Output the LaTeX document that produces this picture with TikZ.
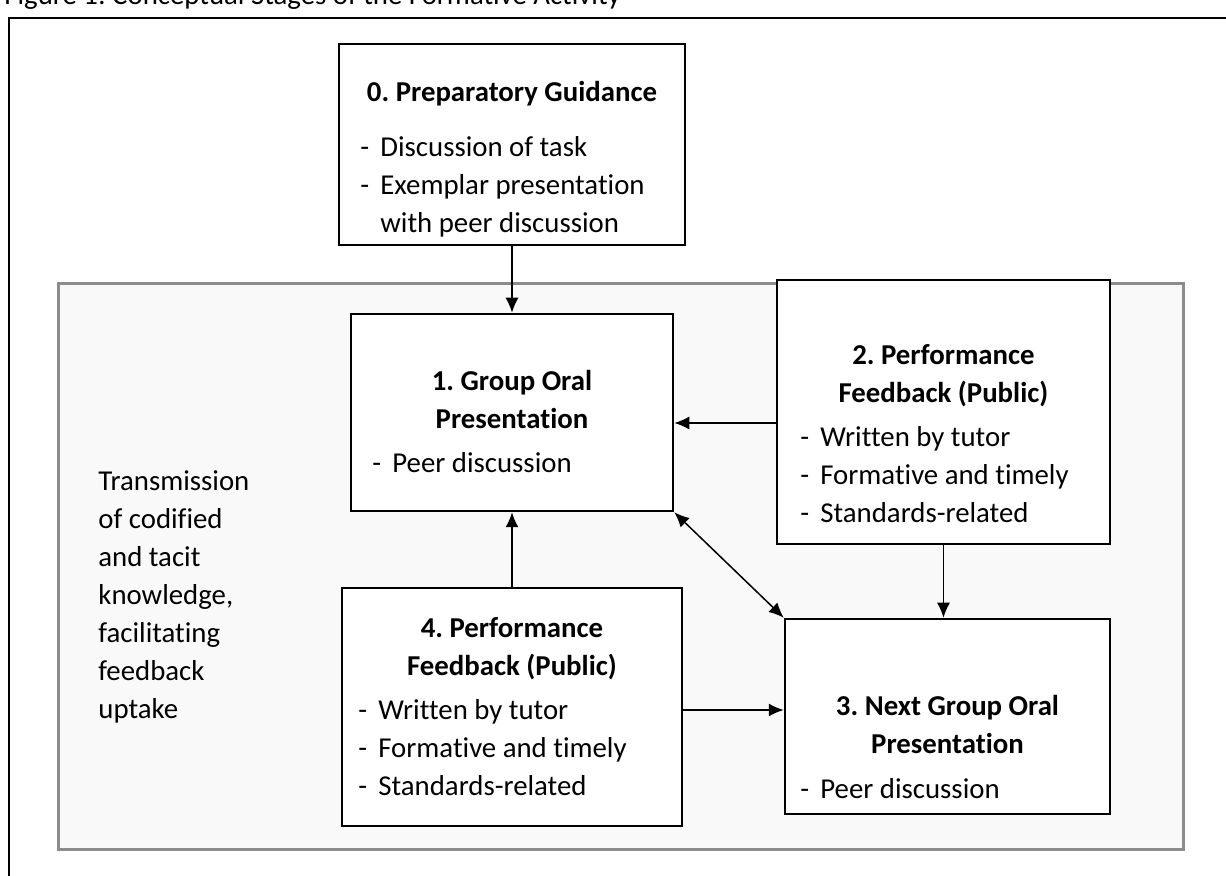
\documentclass[tikz,border=0pt]{standalone}
\usepackage{fontspec}
\setmainfont{Carlito}[Ligatures=NoCommon]
\usetikzlibrary{arrows.meta}

\definecolor{panelfill}{HTML}{F9F9F9}
\definecolor{panelline}{HTML}{8C8C8C}

\newcommand{\bodyfont}{\fontsize{14.4pt}{19pt}\selectfont\frenchspacing}
\newcommand{\dashitem}{\makebox[10pt][l]{-}}

\tikzset{
  stagebox/.style={draw, fill=white, line width=1.25pt, inner sep=0pt},
  heading/.style={font=\bodyfont\bfseries, align=center, inner sep=0pt, anchor=north},
  itemlist/.style={font=\bodyfont, align=left, inner sep=0pt, anchor=north west},
  link/.style={->, line width=0.75pt},
}

\begin{document}
\begin{tikzpicture}[x=0.5pt, y=-0.5pt, >={Latex[length=7.5pt,width=6.5pt]}]%
        \useasboundingbox (0,0) rectangle (1226,876);
        % caption and frame
        \node[font=\bodyfont, anchor=base west, inner sep=0pt] (caption) at (4,5)
            {Figure 1: Conceptual Stages of the Formative Activity};
        \draw[line width=0.75pt] (9,876) -- (9,18) -- (1226,18);
        % grey panel
        \draw[fill=panelfill, draw=panelline, line width=1.5pt] (58,284) rectangle (1183,849);
        % stage boxes
        \node[stagebox, minimum width=173pt, minimum height=100.5pt] (prep) at (512,144.5) {};
        \node[stagebox, minimum width=161pt, minimum height=98.5pt] (oral) at (512,412.5) {};
        \node[stagebox, minimum width=166.5pt, minimum height=132pt] (feedA) at (943.5,412) {};
        \node[stagebox, minimum width=162.5pt, minimum height=97.5pt] (nextoral) at (947.5,716.5) {};
        \node[stagebox, minimum width=170pt, minimum height=119pt] (feedB) at (512,707) {};
        % texts
        \node[heading] (prepHead) at (512,81) {0. Preparatory Guidance};
        \node[itemlist] (prepItems) at (360,136)
            {\dashitem Discussion of task\\ \dashitem Exemplar presentation\\ \hspace*{10pt}with peer discussion};
        \node[heading] (oralHead) at (512,370) {1. Group Oral\\Presentation};
        \node[itemlist] (oralItems) at (372,452) {\dashitem Peer discussion};
        \node[heading] (feedAHead) at (943.5,344) {2. Performance\\Feedback (Public)};
        \node[itemlist] (feedAItems) at (800,426)
            {\dashitem Written by tutor\\ \dashitem Formative and timely\\ \dashitem Standards-related};
        \node[heading] (nextHead) at (947.5,695) {3. Next Group Oral\\Presentation};
        \node[itemlist] (nextItems) at (800,778) {\dashitem Peer discussion};
        \node[heading] (feedBHead) at (512,617) {4. Performance\\Feedback (Public)};
        \node[itemlist] (feedBItems) at (358,699)
            {\dashitem Written by tutor\\ \dashitem Formative and timely\\ \dashitem Standards-related};
        \node[itemlist] (transfer) at (98,470)
            {Transmission\\of codified\\and tacit\\knowledge,\\facilitating\\feedback\\uptake};
        % connectors
        \draw[link] (prep.south) -- (oral.north);
        \draw[link] ([yshift=-5.5pt]feedA.west) -- ([yshift=-5.5pt]feedA.west -| oral.east);
        \draw[link] (feedB.north) -- (oral.south);
        \draw[link, <->] (oral.south east) -- (nextoral.north west);
        \draw[link] (feedA.south) -- (feedA.south |- nextoral.north);
        \draw[link] ([yshift=-1.5pt]feedB.east) -- ([yshift=-1.5pt]feedB.east -| nextoral.west);
    \end{tikzpicture}
\end{document}
